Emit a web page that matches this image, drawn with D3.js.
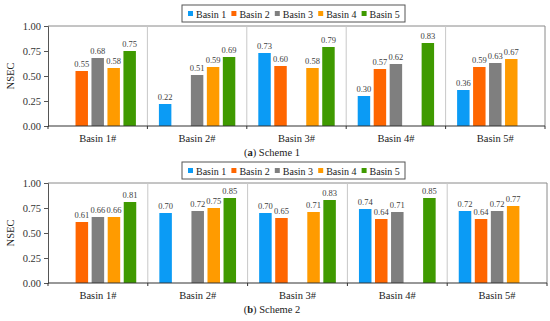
<!DOCTYPE html>
<html>
<head>
    <style>
        body { margin: 0; background: #fff; }
        svg { display: block; font-family: "Liberation Serif", "DejaVu Serif", serif; }
    </style>
</head>
<body>
    <svg width="550" height="321"></svg>
    <script src="https://d3js.org/d3.v7.min.js"></script>
    <script>
        // groups on the x axis and the series inside each group
        var groups = ["Basin 1#", "Basin 2#", "Basin 3#", "Basin 4#", "Basin 5#"];
        var series = ["Basin 1", "Basin 2", "Basin 3", "Basin 4", "Basin 5"];
        var colors = ["#0b9bf5", "#ff6600", "#7f7f7f", "#ff9b00", "#3f9a00"];
        var yTicks = [0, 0.25, 0.5, 0.75, 1];

        // NSEC values, one row per group (null = no bar)
        var scheme1 = [
            [null, 0.55, 0.68, 0.58, 0.75],
            [0.22, null, 0.51, 0.59, 0.69],
            [0.73, 0.60, null, 0.58, 0.79],
            [0.30, 0.57, 0.62, null, 0.83],
            [0.36, 0.59, 0.63, 0.67, null]
        ];
        var scheme2 = [
            [null, 0.61, 0.66, 0.66, 0.81],
            [0.70, null, 0.72, 0.75, 0.85],
            [0.70, 0.65, null, 0.71, 0.83],
            [0.74, 0.64, 0.71, null, 0.85],
            [0.72, 0.64, 0.72, 0.77, null]
        ];

        var svg = d3.select("svg");

        function panel(values, top, right, letter, caption) {
            var left = 48, bottom = top + 100;
            var g = svg.append("g");

            var x0 = d3.scaleBand().domain(groups).range([left, right]);
            var x1 = d3.scaleBand().domain(series).range([0, x0.bandwidth()])
                .paddingInner(0.22).paddingOuter(0.72);
            var y = d3.scaleLinear().domain([0, 1]).range([bottom, top]);

            // plot frame (top and right)
            g.append("path")
                .attr("d", "M" + left + "," + top + "H" + right + "V" + bottom)
                .attr("fill", "none").attr("stroke", "#8a8a8a").attr("stroke-width", 1);

            // separators between groups
            g.selectAll(".sep").data(groups.slice(1)).enter().append("line")
                .attr("x1", function(d) { return x0(d); })
                .attr("x2", function(d) { return x0(d); })
                .attr("y1", top).attr("y2", bottom)
                .attr("stroke", "#c8c8c8").attr("stroke-width", 1);

            // bars
            groups.forEach(function(grp, gi) {
                var row = values[gi];
                var cell = g.append("g").attr("transform", "translate(" + x0(grp) + ",0)");
                series.forEach(function(s, si) {
                    var v = row[si];
                    if (v == null) return;
                    cell.append("rect")
                        .attr("x", x1(s)).attr("width", x1.bandwidth())
                        .attr("y", y(v)).attr("height", y(0) - y(v))
                        .attr("fill", colors[si]);
                    cell.append("text")
                        .attr("x", x1(s) + x1.bandwidth() / 2)
                        .attr("y", y(v) - 4)
                        .attr("text-anchor", "middle")
                        .attr("font-size", 8.5).attr("fill", "#404040")
                        .text(v.toFixed(2));
                });
            });

            // y axis
            var yAxis = g.append("g").attr("transform", "translate(" + left + ",0)")
                .call(d3.axisLeft(y).tickValues(yTicks).tickFormat(d3.format(".2f")).tickSize(4));
            yAxis.select(".domain").attr("stroke", "#555");
            yAxis.selectAll(".tick line").attr("stroke", "#555");
            yAxis.selectAll("text").attr("font-size", 10.5).attr("fill", "#333")
                .attr("font-family", "Liberation Serif, serif");

            // x axis with ticks at group boundaries
            g.append("line").attr("x1", left).attr("x2", right)
                .attr("y1", bottom).attr("y2", bottom)
                .attr("stroke", "#333").attr("stroke-width", 1.2);
            g.selectAll(".xt").data(groups.map(function(d) { return x0(d); }).concat([right]))
                .enter().append("line")
                .attr("x1", function(d) { return d; }).attr("x2", function(d) { return d; })
                .attr("y1", bottom).attr("y2", bottom + 3)
                .attr("stroke", "#333");
            g.selectAll(".xl").data(groups).enter().append("text")
                .attr("x", function(d) { return x0(d) + x0.bandwidth() / 2; })
                .attr("y", bottom + 16)
                .attr("text-anchor", "middle")
                .attr("font-size", 10.5).attr("fill", "#222")
                .text(function(d) { return d; });

            // y label
            g.append("text")
                .attr("transform", "translate(14," + (top + 50) + ") rotate(-90)")
                .attr("text-anchor", "middle")
                .attr("font-size", 10.5).attr("fill", "#222")
                .text("NSEC");

            // legend
            var lg = g.append("g").attr("transform", "translate(182," + (top - 21) + ")");
            lg.append("rect").attr("width", 223).attr("height", 17)
                .attr("fill", "#fff").attr("stroke", "#555").attr("stroke-width", 1);
            var lx = d3.scaleBand().domain(series).range([4, 221]);
            series.forEach(function(s, i) {
                lg.append("rect").attr("x", lx(s) + 2).attr("y", 6)
                    .attr("width", 5).attr("height", 5).attr("fill", colors[i]);
                lg.append("text").attr("x", lx(s) + 10).attr("y", 12.5)
                    .attr("font-size", 10).attr("fill", "#222").text(s);
            });

            // caption
            var cap = g.append("text")
                .attr("x", 272).attr("y", bottom + 30)
                .attr("text-anchor", "middle")
                .attr("font-size", 10.5).attr("fill", "#222");
            cap.append("tspan").text("(");
            cap.append("tspan").attr("font-weight", "bold").text(letter);
            cap.append("tspan").text(") " + caption);
        }

        panel(scheme1, 26, 545, "a", "Scheme 1");
        panel(scheme2, 183, 547, "b", "Scheme 2");
    </script>
</body>
</html>
